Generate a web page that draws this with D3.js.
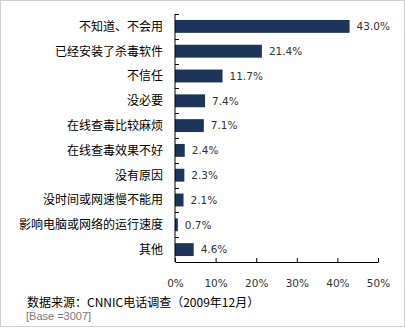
<!DOCTYPE html>
<html>
<head>
<meta charset="utf-8">
<script src="https://cdn.jsdelivr.net/npm/d3@7"></script>
<style>
  body { margin: 0; background: #fff; }
  svg { display: block; }
</style>
</head>
<body>
<div id="chart"></div>
<script>
// Data
const categories = ["不知道、不会用", "已经安装了杀毒软件", "不信任", "没必要", "在线查毒比较麻烦",
  "在线查毒效果不好", "没有原因", "没时间或网速慢不能用", "影响电脑或网络的运行速度", "其他"];
const values = [43.0, 21.4, 11.7, 7.4, 7.1, 2.4, 2.3, 2.1, 0.7, 4.6];
const xTicks = [0, 10, 20, 30, 40, 50];
const sourceNote = "数据来源：CNNIC电话调查（2009年12月）";
const baseNote = "[Base =3007]";

const W = 406, H = 328;
const margin = {top: 14, right: 28, bottom: 66, left: 175};
const height = H - margin.top - margin.bottom;

const root = d3.select("#chart").append("svg")
    .attr("width", W)
    .attr("height", H);

// outer frame
root.append("rect")
    .attr("x", 0.5).attr("y", 0.5)
    .attr("width", W - 2).attr("height", H - 2)
    .attr("fill", "#fff")
    .attr("stroke", "#cfcfcf");

const svg = root.append("g")
    .attr("transform", `translate(${margin.left},${margin.top})`);

// Scales
const xScale = d3.scaleLinear().domain([0, 50]).range([0, 203]);
const yScale = d3.scaleBand().domain(categories).range([0, height]).paddingInner(0.48).paddingOuter(0.24);

// Bars
svg.selectAll("rect.bar")
  .data(values)
  .enter().append("rect")
    .attr("class", "bar")
    .attr("x", 0)
    .attr("y", (d, i) => yScale(categories[i]))
    .attr("width", d => xScale(d))
    .attr("height", yScale.bandwidth())
    .style("fill", "#1b355b");

// value labels
svg.selectAll("text.val")
  .data(values)
  .enter().append("text")
    .attr("class", "val")
    .attr("x", d => xScale(d) + 7)
    .attr("y", (d, i) => yScale(categories[i]) + yScale.bandwidth() / 2)
    .attr("dy", "0.36em")
    .style("font-family", "'DejaVu Sans', Verdana, sans-serif")
    .style("font-size", "10.5px")
    .style("fill", "#333")
    .text(d => d.toFixed(1) + "%");

// Axes
const step = height / categories.length;
const yAxis = svg.append("g");
yAxis.append("line").attr("x1", 0).attr("x2", 0).attr("y1", 0).attr("y2", height)
    .attr("stroke", "#000");
yAxis.selectAll("line.tk").data(d3.range(categories.length)).enter().append("line")
    .attr("class", "tk")
    .attr("x1", 0).attr("x2", 4)
    .attr("y1", i => Math.round(i * step) + 0.5).attr("y2", i => Math.round(i * step) + 0.5)
    .attr("stroke", "#000");
yAxis.selectAll("text").data(categories).enter().append("text")
    .attr("x", -12)
    .attr("y", d => yScale(d) + yScale.bandwidth() / 2)
    .attr("dy", "0.36em")
    .attr("text-anchor", "end")
    .style("font-family", "'Noto Sans CJK SC', sans-serif")
    .style("font-size", "12px")
    .style("fill", "#000")
    .text(d => d);

const xAxis = d3.axisBottom(xScale).tickValues(xTicks).tickSize(-4).tickPadding(18)
    .tickFormat(d => d + "%");
const gx = svg.append("g")
    .attr("transform", `translate(0,${height})`)
    .call(xAxis);
gx.select(".domain").attr("stroke", "#000").attr("d", `M0.5,0.5H${xScale(50) + 0.5}`);
gx.selectAll(".tick line").attr("stroke", "#000");
gx.selectAll(".tick text")
    .style("font-family", "'DejaVu Sans', Verdana, sans-serif")
    .style("font-size", "10.5px")
    .style("fill", "#333");

// footnotes
root.append("text")
    .attr("x", 27).attr("y", 307)
    .style("font-family", "'Noto Sans CJK SC', sans-serif")
    .style("font-size", "12px")
    .style("fill", "#000")
    .text(sourceNote);
root.append("text")
    .attr("x", 26).attr("y", 320)
    .style("font-family", "Arial, 'Liberation Sans', sans-serif")
    .style("font-size", "11px")
    .style("fill", "#777")
    .text(baseNote);
</script>
</body>
</html>
